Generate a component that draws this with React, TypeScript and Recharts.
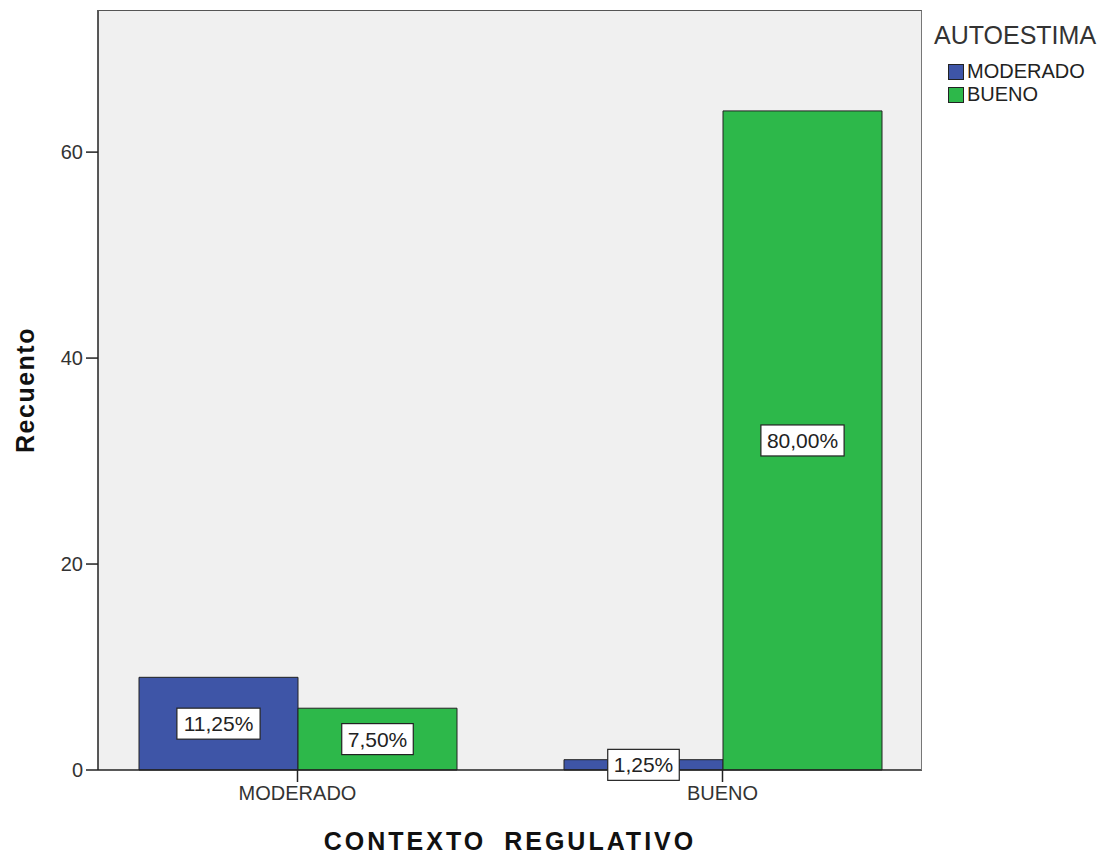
import { BarChart, Bar, XAxis, YAxis, CartesianGrid, LabelList } from "recharts"

const categories = ["MODERADO", "BUENO"]
const moderadoCounts = [9, 1]
const buenoCounts = [6, 64]
const moderadoPct = ["11,25%", "1,25%"]
const buenoPct = ["7,50%", "80,00%"]
const yTicks = [0, 20, 40, 60]

const data = categories.map((cat, i) => ({
  cat,
  moderado: moderadoCounts[i],
  bueno: buenoCounts[i],
  pm: moderadoPct[i],
  pb: buenoPct[i],
}))

const FONT = '"Liberation Sans", Arial, sans-serif'
const BLUE = "#3E55A7"
const GREEN = "#2DB84A"

const charW = (c: string) => (c === "," ? 0.278 : c === "%" ? 0.889 : 0.556)

function PctLabel(props: any) {
  const { x, y, width, height, value } = props
  const fs = 21
  const w = String(value).split("").reduce((s, c) => s + charW(c), 0) * fs + 12
  const h = 31
  const cx = x + width / 2
  const cy = y + height / 2
  return (
    <g>
      <rect x={cx - w / 2} y={cy - h / 2} width={w} height={h} fill="#fff" stroke="#222" strokeWidth={1.2} />
      <text x={cx} y={cy} textAnchor="middle" dominantBaseline="central" fontSize={fs} fontFamily={FONT} fill="#222">
        {value}
      </text>
    </g>
  )
}

function LegendBox() {
  const items = [
    { name: "MODERADO", color: BLUE },
    { name: "BUENO", color: GREEN },
  ]
  return (
    <div style={{ position: "absolute", left: 926, top: 12, width: 176, fontFamily: FONT, color: "#333" }}>
      <div style={{ fontSize: 25, lineHeight: "30px" }}>AUTOESTIMA</div>
      <div style={{ marginTop: 10 }}>
        {items.map((it) => (
          <div key={it.name} style={{ display: "flex", alignItems: "center", height: 23, marginLeft: 14 }}>
            <span style={{ width: 14, height: 14, background: it.color, border: "1.5px solid #222", display: "inline-block" }} />
            <span style={{ fontSize: 20, marginLeft: 3, color: "#222" }}>{it.name}</span>
          </div>
        ))}
      </div>
    </div>
  )
}

export default function App() {
  return (
    <div style={{ position: "relative", width: 1102, height: 846 }}>
      <BarChart
        width={1102}
        height={846}
        data={data}
        margin={{ top: 2, right: 188, left: 0, bottom: 0 }}
        barCategoryGap={54}
        barGap={0}
      >
        <CartesianGrid fill="#F0F0F0" horizontal={false} vertical={false} />
        <XAxis
          dataKey="cat"
          height={84}
          padding={{ left: -13, right: -13 }}
          tickSize={12}
          tickMargin={4}
          tick={{ fontSize: 20, fill: "#333", fontFamily: FONT }}
          axisLine={{ stroke: "#222", strokeWidth: 1.5 }}
          tickLine={{ stroke: "#222", strokeWidth: 1.5 }}
          label={{
            value: "CONTEXTO REGULATIVO",
            position: "center",
            dy: 29,
            style: { fontSize: 25, fontWeight: "bold", fill: "#111", fontFamily: FONT, letterSpacing: 3, wordSpacing: 8 },
          }}
        />
        <YAxis
          width={90}
          domain={[0, 73.8]}
          ticks={yTicks}
          tickSize={12}
          tickMargin={3}
          tick={{ fontSize: 20, fill: "#333", fontFamily: FONT }}
          axisLine={{ stroke: "#222", strokeWidth: 1.5 }}
          tickLine={{ stroke: "#222", strokeWidth: 1.5 }}
          label={{
            value: "Recuento",
            angle: -90,
            position: "center",
            dx: -28,
            style: { fontSize: 25, fontWeight: "bold", fill: "#111", fontFamily: FONT, letterSpacing: 1.5 },
          }}
        />
        <Bar dataKey="moderado" name="MODERADO" fill={BLUE} stroke="#222" strokeWidth={1} isAnimationActive={false}>
          <LabelList dataKey="pm" content={<PctLabel />} />
        </Bar>
        <Bar dataKey="bueno" name="BUENO" fill={GREEN} stroke="#222" strokeWidth={1} isAnimationActive={false}>
          <LabelList dataKey="pb" content={<PctLabel />} />
        </Bar>
      </BarChart>
      <div
        style={{
          position: "absolute",
          left: 90,
          top: 2,
          width: 824,
          height: 760,
          borderTop: "1.5px solid #555",
          borderRight: "1.5px solid #777",
          boxSizing: "border-box",
          pointerEvents: "none",
        }}
      />
      <LegendBox />
    </div>
  )
}
